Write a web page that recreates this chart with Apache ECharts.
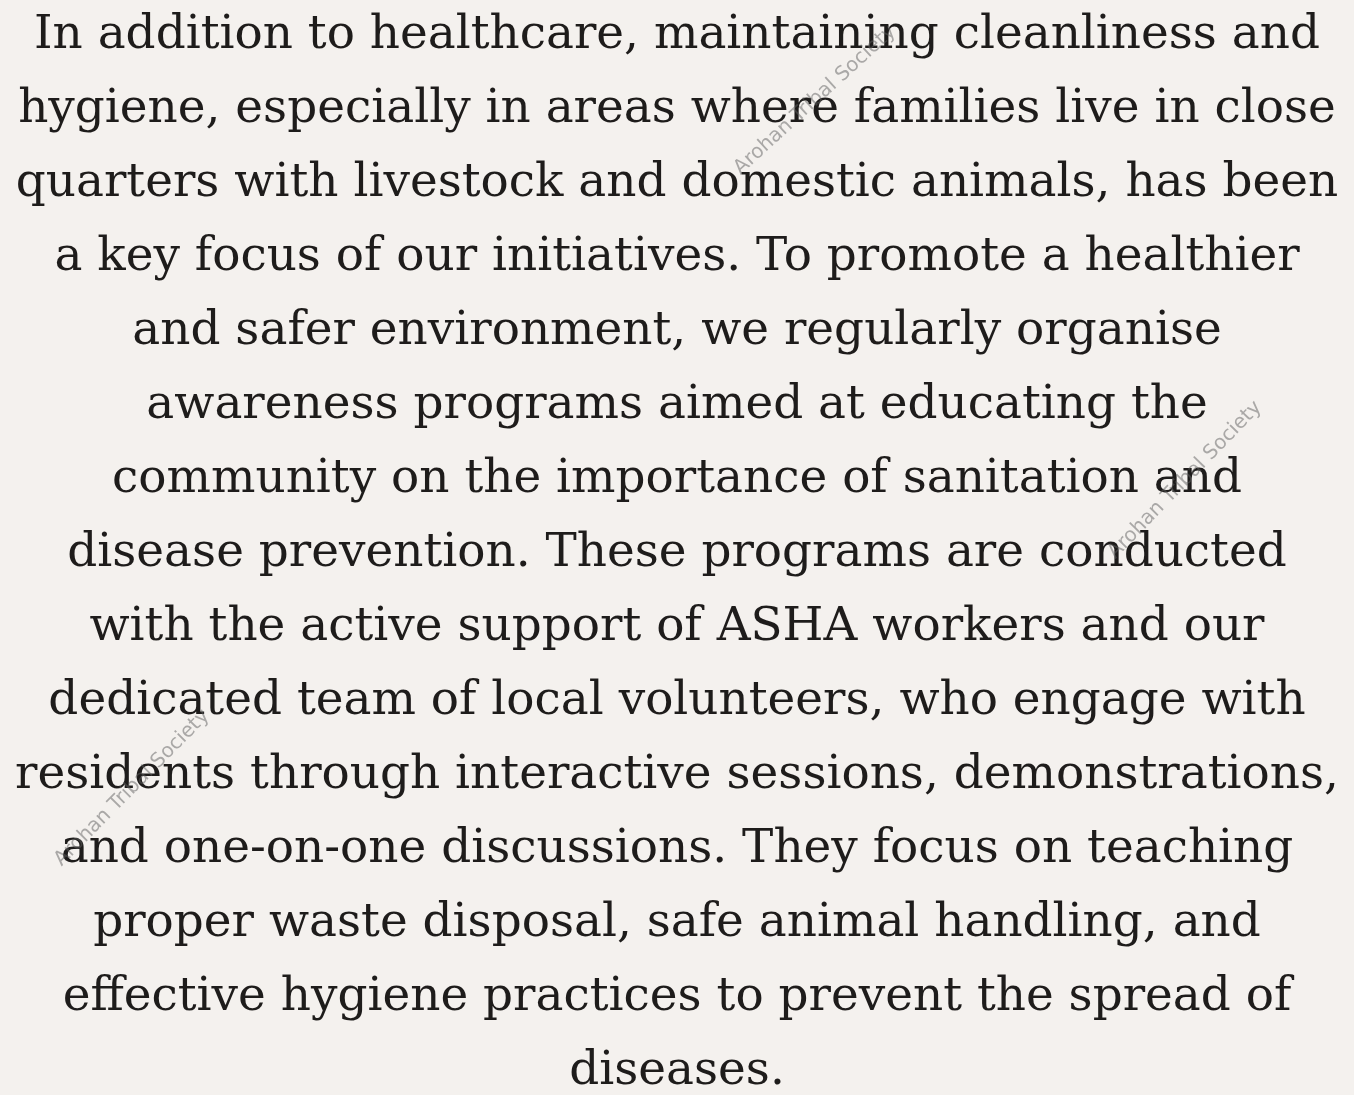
<!DOCTYPE html>
<html>
<head>
<meta charset="utf-8">
<script src="https://cdn.jsdelivr.net/npm/echarts@6/dist/echarts.min.js"></script>
<style>
html,body{margin:0;padding:0;background:#f4f1ee;}
#main{width:1354px;height:1095px;}
</style>
</head>
<body>
<div id="main"></div>
<script>
const lines = [
  "In addition to healthcare, maintaining cleanliness and",
  "hygiene, especially in areas where families live in close",
  "quarters with livestock and domestic animals, has been",
  "a key focus of our initiatives. To promote a healthier",
  "and safer environment, we regularly organise",
  "awareness programs aimed at educating the",
  "community on the importance of sanitation and",
  "disease prevention. These programs are conducted",
  "with the active support of ASHA workers and our",
  "dedicated team of local volunteers, who engage with",
  "residents through interactive sessions, demonstrations,",
  "and one-on-one discussions. They focus on teaching",
  "proper waste disposal, safe animal handling, and",
  "effective hygiene practices to prevent the spread of",
  "diseases."
];
const watermarkText = "Arohan Tribal Society";

const chart = echarts.init(document.getElementById('main'), null, {renderer: 'canvas'});
const W = 1354, lineGap = 74, firstY = 36;

// choose font size so that the widest line spans about the page width
const cv = document.createElement('canvas').getContext('2d');
cv.font = '100px "DejaVu Serif"';
let maxW = 0;
lines.forEach(t => { maxW = Math.max(maxW, cv.measureText(t).width); });
const fs = Math.floor(100 * 1325 / maxW * 10) / 10;

const elements = [];
elements.push({type:'rect', shape:{x:0,y:0,width:W,height:1095}, style:{fill:'#f4f1ee'}, z:0});
const marks = [[815,100,0.74],[1185,480,0.8],[132,788,0.79]];
marks.forEach(m => {
  elements.push({
    type:'text', x:m[0], y:m[1], rotation:m[2], z:3,
    style:{text:watermarkText, font:'20px "DejaVu Sans"', fill:'rgba(95,95,95,0.5)', textAlign:'center', textVerticalAlign:'middle'}
  });
});
lines.forEach((t,i) => {
  elements.push({
    type:'text', x:W/2, y:firstY + i*lineGap, z:2,
    style:{text:t, font: fs + 'px "DejaVu Serif"', fill:'#1e1c1b', textAlign:'center', textVerticalAlign:'middle'}
  });
});
chart.setOption({backgroundColor:'#f4f1ee', animation:false, graphic:{elements}});
</script>
</body>
</html>
